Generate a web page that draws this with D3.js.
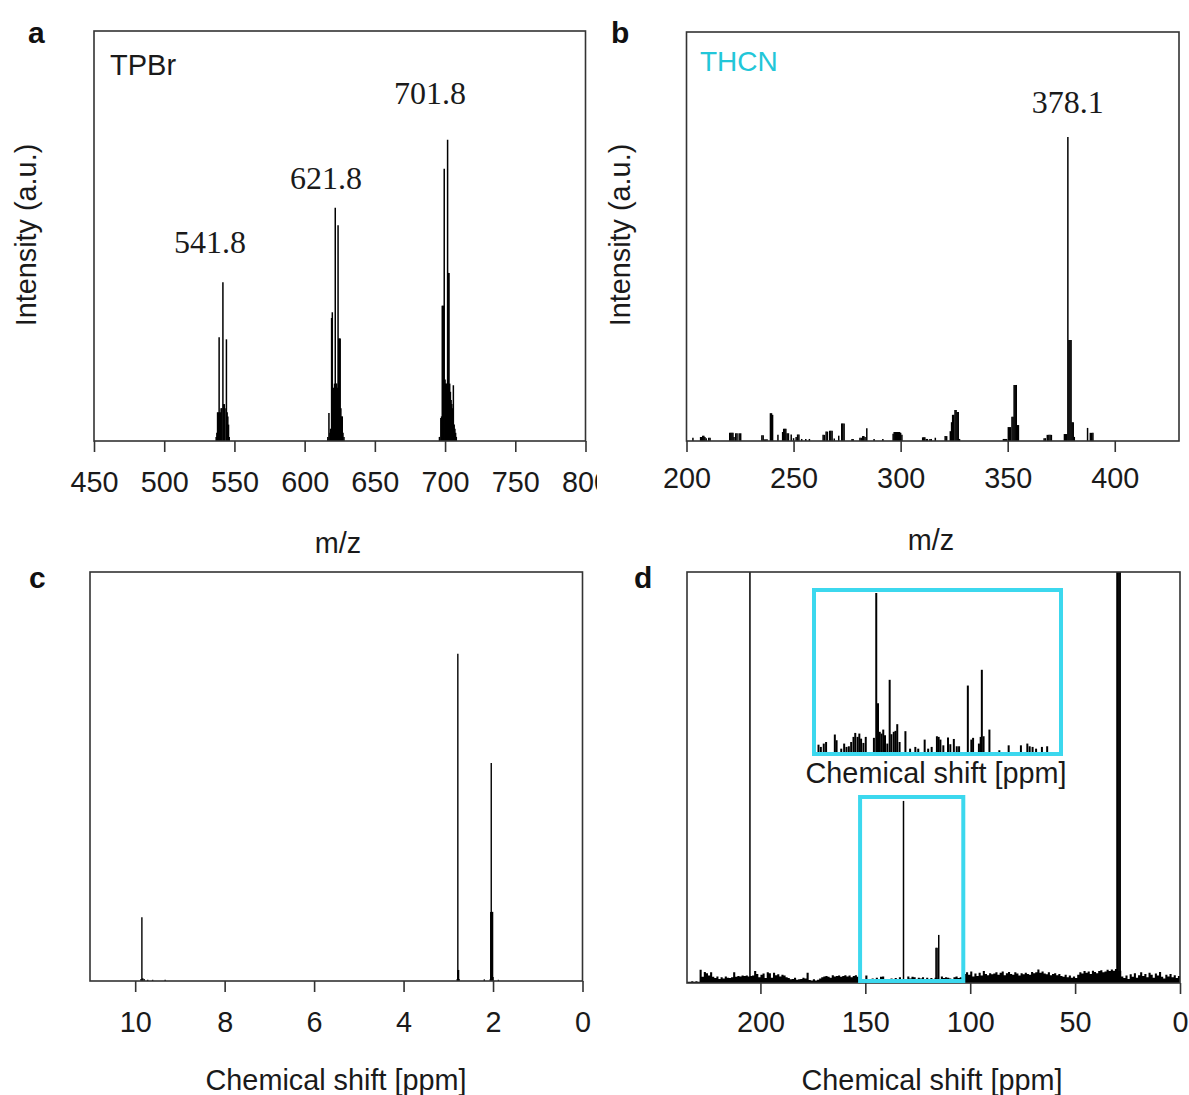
<!DOCTYPE html>
<html><head><meta charset="utf-8">
<script src="https://cdn.jsdelivr.net/npm/d3@7"></script>
<style>body{margin:0;background:#fff}</style>
</head><body>
<svg id="c" width="1189" height="1095"></svg>
<script>
// ---------- DATA ----------
// Panel a : TPBr mass spectrum, [m/z, intensity %]
const tpbrTicks = [450,500,550,600,650,700,750,800];
const tpbrCluster542 = [[537.0,1],[537.5,2],[538.0,7],[538.5,7],[539.1,25.3],[539.5,7],[540.0,7],[540.5,8],[541.0,8],[541.8,38.7],[542.3,9],[542.8,9],[543.3,8],[544.3,24.8],[544.8,7],[545.3,6],[545.8,4],[546.3,1]];
const tpbrCluster622 = [[616.5,1],[617.3,6.8],[618.0,2],[618.5,3],[619.2,30],[619.7,31.4],[620.2,12],[620.7,13],[621.3,14],[621.8,56.9],[622.3,14],[622.8,14],[623.3,13],[623.8,52.6],[624.3,25],[624.8,25],[625.3,25],[625.8,8],[626.3,6],[626.8,6],[627.3,2],[628.0,1]];
const tpbrCluster702 = [[696.0,1],[697.0,5.6],[697.5,6],[698.0,33],[698.5,33],[699.0,33],[699.4,66.4],[700.0,15],[700.5,14],[701.0,14],[701.8,73.5],[702.3,41],[702.8,41],[703.3,14],[703.8,12],[704.3,10],[704.8,9],[705.3,8],[705.9,13.6],[706.5,4],[707.0,3],[707.5,2],[708.0,1]];
// [label, label position m/z, label position intensity]
const tpbrLabels = [["541.8",532.6,48.5],["621.8",615.2,64.1],["701.8",689.3,84.9]];

// Panel b : THCN mass spectrum
const thcnTicks = [200,250,300,350,400];
const thcnLowMass = [[203.0,0.8],[206.6,1.0],[207.1,1.0],[207.6,1.3],[208.1,1.3],[208.6,1.0],[209.2,0.7],[210.4,0.8],[211.0,0.8],
 [220.2,2.0],[220.7,2.0],[221.2,2.0],[221.7,2.0],[222.2,1.0],[223.0,1.9],[223.6,1.9],[224.6,1.9],[225.3,1.9],
 [235.2,1.4],[235.8,1.4],[236.4,0.4],[237.0,0.4],[237.6,0.4],[239.2,6.8],[239.7,6.8],[240.2,6.4],[242.7,1.5],
 [244.9,2.2],[245.4,3.0],[245.9,3.0],[246.4,3.0],[247.0,1.9],[247.6,1.9],[248.9,1.6],[250.0,0.7],[251.2,1.0],[251.9,1.6],[252.5,1.6],
 [253.8,0.5],[255.7,0.5],[257.4,0.5],[263.8,1.5],[264.4,1.5],[265.2,2.3],[265.8,2.3],[266.9,2.5],[267.4,2.5],[268.0,2.5],[269.0,0.6],
 [271.1,1.3],[272.5,4.3],[273.0,4.3],[273.6,4.3],[277.3,0.5],[277.8,0.5],[281.0,0.8],[281.6,0.8],[282.3,1.2],[282.8,1.2],[283.4,1.0],[284.2,3.1],
 [287.6,0.5],[291.7,0.5],[296.5,1.8],[297.0,2.2],[297.5,2.2],[298.0,2.2],[298.5,2.2],[299.0,2.2],[299.5,2.2],[300.0,2.0],[300.6,1.5],
 [310.3,0.9],[310.8,0.9],[311.3,0.9],[312.0,0.5],[312.5,0.5],[313.7,0.5],[314.3,0.5],[316.2,0.8]];
const thcnCluster325 = [[320.8,1.2],[321.5,1.2],[323.2,2.4],[323.8,4.6],[324.3,6.4],[324.8,6.4],[325.4,7.6],[325.9,7.6],[326.4,7.1],[326.9,7.1],[327.5,0.5]];
const thcnCluster353 = [[348.0,0.5],[348.5,0.5],[349.0,0.5],[349.5,0.5],[350.3,3.4],[350.8,3.4],[351.3,3.4],[352.0,5.9],[352.5,5.9],[353.0,13.7],[353.5,13.7],[354.0,13.7],[354.5,3.9],[355.0,3.9]];
const thcnCluster369 = [[367.0,0.7],[367.6,0.7],[368.5,1.5],[369.2,1.5],[369.8,1.5],[370.4,1.5]];
const thcnCluster378 = [[376.5,1.7],[377.0,1.7],[377.5,1.7],[378.1,74.3],[378.6,24.7],[379.1,24.7],[379.6,24.7],[380.1,4.6],[380.6,4.6],[381.1,1]];
const thcnCluster388 = [[387.3,3.2],[388.6,2.0],[389.2,2.0],[389.8,2.0]];
const thcnLabels = [["378.1",378.1,82.9]];

// Panel c : 1H NMR, [ppm, intensity %]
const hTicks = [10,8,6,4,2,0];
const hPeaks = [[9.87,0.5],[9.85,15.6],[9.83,0.7],[9.80,0.5],[9.72,0.3],[9.61,0.3],[9.33,0.3],
 [2.80,0.5],[2.79,2.7],[2.787,80],[2.78,2.7],[2.77,2.7],[2.76,0.5],[2.195,0.4],
 [2.06,0.5],[2.05,16.9],[2.045,16.9],[2.04,53.3],[2.03,16.9],[2.02,16.9],[2.01,16.9],[2.00,1],[1.88,0.3]];

// Panel d : 13C NMR
const cTicks = [200,150,100,50,0];
const cPeaks = [[205.0,120],[131.8,44.3],[116.3,8.6],[115.8,8.6],[115.0,11.7],[28.5,120],[29.0,120],[29.5,120],[30.0,120],[29.8,120]];
const cNoiseStart = 235; // ppm of first noise value, 1 ppm step downwards
const cNoise = [0.3,0.3,0.4,0.3,0.4,0.3,
 3.2,1.5,2.7,2.4,1.8,2.6,
 1.5,1.2,1.6,1.0,1.4,1.1,1.6,1.3,
 1.2,1.4,2.6,1.5,1.7,1.6,1.8,1.7,1.8,1.6,1.7,
 1.8,2.9,2.2,1.4,2.0,
 2.3,1.2,2.6,2.4,1.3,2.5,1.9,2.1,1.6,2.0,
 1.8,1.4,1.2,0.9,1.0,1.3,0.8,0.9,1.0,1.3,
 1.1,2.5,0.7,0.6,0.9,0.6,0.8,1.1,1.4,1.6,
 1.7,1.5,1.3,1.9,1.6,1.7,1.8,1.5,1.7,1.9,
 1.6,1.8,1.4,1.7,1.9,1.5,1.8,
 0.8,0.7,1.8,0.7,0.8,1.1,0.9,1.3,0.8,1.5,1.6,0.9,1.0,0.8,1.1,0.9,1.2,0.8,1.4,0.7,0.8,0.7,1.6,1.1,1.5,1.4,0.8,1.3,1.1,1.4,1.0,1.3,0.8,1.2,0.9,1.3,1.1,1.0,1.6,1.2,1.4,1.3,1.1,1.0,1.4,1.6,1.2,1.4,1.3,2.2,
 2.6,2.0,2.8,1.6,2.3,1.7,2.5,1.8,2.9,2.2,1.9,2.4,2.1,
 2.3,2.6,2.0,2.5,2.8,1.9,2.4,2.7,2.2,2.0,2.6,2.3,1.8,2.4,2.1,2.5,2.2,2.0,2.7,2.4,2.6,3.3,2.5,2.8,2.3,2.1,2.6,1.9,2.2,2.4,
 1.9,2.2,1.7,1.5,2.0,1.4,1.8,1.3,1.6,1.2,
 2.0,2.6,2.3,2.9,2.5,2.8,2.2,3.0,2.7,2.4,2.9,3.1,2.6,2.8,3.2,2.9,3.3,3.0,3.4,
 3.0,3.0,
 1.6,1.2,1.8,1.0,2.1,1.5,2.4,1.3,1.9,2.6,1.7,2.2,1.4,2.5,2.0,1.3,2.3,1.8,2.7,1.5,1.1,2.0,1.6,2.2,1.4,1.9,1.2,1.7,1.0];
const cZoomBox = [152.5, 103.3];
// Inset (aromatic region expanded), [ppm, intensity %]
const cInsetDomain = [143, 101];
const cInset = [[142.4,4.6],[142.0,3.2],[141.5,5.3],[141.1,6.3],[139.6,11],[139.3,7.4],[138.5,2.1],[138.0,5.3],[137.6,3.2],[137.2,3.6],
 [136.8,6.3],[136.4,9.5],[136.1,12],[135.7,9.5],[135.4,11.6],[135.1,8.4],[134.7,5.7],[134.3,9.5],[132.9,8.9],[132.5,100],[132.2,30.6],
 [131.9,12.7],[131.6,11.6],[131.3,14.1],[131.0,10.6],[130.6,5.3],[130.2,45.4],[129.9,11.2],[129.5,12.7],[129.2,13.3],[128.9,17.5],[128.5,6.3],
 [127.5,13.1],[126.7,2.1],[125.8,3.2],[125.3,2.1],[124.2,7.8],[123.6,2.1],[123.0,3.2],[122.1,9.9],[121.8,9.5],[121.5,7.8],[121.0,4.2],
 [120.2,9.1],[119.8,4.9],[119.2,8.2],[118.7,3.6],[118.3,3.6],[116.8,41.8],[116.2,7.8],[115.9,8.9],[114.9,5.3],[114.6,9.5],[114.4,51.7],
 [114.1,9.9],[113.1,14.1],[111.4,1.1],[109.8,4.2],[107.7,4.2],[106.6,5.3],[106.2,3.6],[105.7,3.2],[105.1,2.1],[104.1,3.2],[103.2,3.6]];

// ---------- DRAWING ----------
const SANS = '"Liberation Sans", Arial, sans-serif';
const SERIF = '"Liberation Serif", "Times New Roman", serif';
const CYAN = "#3cd8ee";
const FS = 28.8;
const svg = d3.select("#c");
const defs = svg.append("defs");

function panel(o) {
  const g = svg.append("g");
  const x = d3.scaleLinear().domain(o.xDomain).range([o.left, o.right]);
  const y = d3.scaleLinear().domain([0, 100]).range([o.bottom, o.top]);
  defs.append("clipPath").attr("id", "clip" + o.id).append("rect")
    .attr("x", o.left).attr("y", o.top).attr("width", o.right - o.left).attr("height", o.bottom - o.top);
  const plot = g.append("g").attr("clip-path", `url(#clip${o.id})`);
  (o.sticks || []).forEach(arr => {
    plot.append("g").selectAll("line").data(arr).join("line")
      .attr("x1", d => x(d[0])).attr("x2", d => x(d[0]))
      .attr("y1", y(0)).attr("y2", d => y(d[1]))
      .attr("stroke", "#000").attr("stroke-width", o.sw || 1.5);
  });
  g.append("rect").attr("x", o.left).attr("y", o.top)
    .attr("width", o.right - o.left).attr("height", o.bottom - o.top)
    .attr("fill", "none").attr("stroke", "#333").attr("stroke-width", 1.6);
  const ax = g.append("g").attr("transform", `translate(0,${o.bottom})`)
    .call(d3.axisBottom(x).tickValues(o.ticks).tickSize(11).tickSizeOuter(0)
      .tickPadding(o.pad).tickFormat(d3.format("d")));
  if (o.axisClip) {
    defs.append("clipPath").attr("id", "aclip" + o.id).append("rect")
      .attr("x", -10).attr("y", -20).attr("width", o.axisClip + 10).attr("height", 80);
    ax.attr("clip-path", `url(#aclip${o.id})`);
  }
  ax.select(".domain").remove();
  ax.selectAll(".tick line").attr("stroke", "#333").attr("stroke-width", 1.6);
  ax.selectAll(".tick text").attr("font-size", FS).attr("fill", "#1a1a1a").attr("font-family", SANS);
  g.append("text").attr("x", o.titleX).attr("y", o.titleY).attr("text-anchor", "middle")
    .attr("dominant-baseline", "central").attr("font-family", SANS).attr("font-size", FS)
    .attr("fill", "#1a1a1a").text(o.title);
  if (o.ylabel) {
    g.append("text").attr("transform", `translate(${o.ylabelX},235) rotate(-90)`)
      .attr("text-anchor", "middle").attr("dominant-baseline", "central")
      .attr("font-family", SANS).attr("font-size", FS).attr("fill", "#1a1a1a").text(o.ylabel);
  }
  g.append("text").attr("x", o.letterX).attr("y", o.letterY).attr("font-family", SANS)
    .attr("font-weight", "bold").attr("font-size", 30).attr("dominant-baseline", "central")
    .attr("fill", "#111").text(o.letter);
  return { g, x, y, plot };
}

// Panel a
const pa = panel({ id: "a", xDomain: [450, 800], left: 94, right: 585.5, top: 31, bottom: 441,
  ticks: tpbrTicks, pad: 20, axisClip: 597, title: "m/z", titleX: 338, titleY: 543,
  ylabel: "Intensity (a.u.)", ylabelX: 26, letter: "a", letterX: 28, letterY: 32,
  sticks: [tpbrCluster542, tpbrCluster622, tpbrCluster702] });
pa.g.append("text").attr("x", 110).attr("y", 65).attr("dominant-baseline", "central")
  .attr("font-family", SANS).attr("font-size", 29).attr("fill", "#1a1a1a").text("TPBr");
pa.g.selectAll(".plab").data(tpbrLabels).join("text")
  .attr("x", d => pa.x(d[1])).attr("y", d => pa.y(d[2]))
  .attr("text-anchor", "middle").attr("dominant-baseline", "central")
  .attr("font-family", SERIF).attr("font-size", 32).attr("fill", "#1a1a1a").text(d => d[0]);

// Panel b
const pb = panel({ id: "b", xDomain: [200, 430], left: 686.5, right: 1179, top: 32, bottom: 441,
  ticks: thcnTicks, pad: 16, title: "m/z", titleX: 931, titleY: 540,
  ylabel: "Intensity (a.u.)", ylabelX: 620, letter: "b", letterX: 611, letterY: 32,
  sticks: [thcnLowMass, thcnCluster325, thcnCluster353, thcnCluster369, thcnCluster378, thcnCluster388] });
pb.g.append("text").attr("x", 700).attr("y", 61).attr("dominant-baseline", "central")
  .attr("font-family", SANS).attr("font-size", 28).attr("fill", "#22c6d8").text("THCN");
pb.g.selectAll(".plab").data(thcnLabels).join("text")
  .attr("x", d => pb.x(d[1])).attr("y", d => pb.y(d[2]))
  .attr("text-anchor", "middle").attr("dominant-baseline", "central")
  .attr("font-family", SERIF).attr("font-size", 32).attr("fill", "#1a1a1a").text(d => d[0]);

// Panel c
const pc = panel({ id: "c", xDomain: [11.01, 0], left: 90, right: 582.5, top: 572, bottom: 981,
  ticks: hTicks, pad: 20, title: "Chemical shift [ppm]", titleX: 336, titleY: 1080,
  letter: "c", letterX: 29, letterY: 577, sticks: [hPeaks], sw: 1.4 });

// Panel d
const pd = panel({ id: "d", xDomain: [235, 0], left: 687, right: 1180, top: 572, bottom: 983,
  ticks: cTicks, pad: 18, title: "Chemical shift [ppm]", titleX: 932, titleY: 1080,
  letter: "d", letterX: 634, letterY: 577, sticks: [cPeaks], sw: 1.5 });
pd.plot.append("path").datum(cNoise)
  .attr("d", d3.area().x((d, i) => pd.x(cNoiseStart - i)).y0(pd.y(0)).y1(d => pd.y(d)).curve(d3.curveStepAfter))
  .attr("fill", "#000");
// highlighted region in main spectrum
pd.g.append("rect").attr("x", pd.x(cZoomBox[0])).attr("y", 797)
  .attr("width", pd.x(cZoomBox[1]) - pd.x(cZoomBox[0])).attr("height", 983 - 797 - 2)
  .attr("fill", "none").attr("stroke", CYAN).attr("stroke-width", 4);

// Inset
const ix = d3.scaleLinear().domain(cInsetDomain).range([815, 1060]);
const iy = d3.scaleLinear().domain([0, 100]).range([752, 593]);
defs.append("clipPath").attr("id", "clipInset").append("rect").attr("x", 815).attr("y", 591).attr("width", 245).attr("height", 162);
pd.g.append("g").attr("clip-path", "url(#clipInset)").selectAll("line").data(cInset).join("line")
  .attr("x1", d => ix(d[0])).attr("x2", d => ix(d[0])).attr("y1", iy(0)).attr("y2", d => iy(d[1]))
  .attr("stroke", "#000").attr("stroke-width", 2);
pd.g.append("rect").attr("x", 814).attr("y", 590).attr("width", 247).attr("height", 164)
  .attr("fill", "none").attr("stroke", CYAN).attr("stroke-width", 4);
pd.g.append("text").attr("x", 936).attr("y", 773).attr("text-anchor", "middle")
  .attr("dominant-baseline", "central").attr("font-family", SANS).attr("font-size", FS)
  .attr("fill", "#1a1a1a").text("Chemical shift [ppm]");
</script>
</body></html>
